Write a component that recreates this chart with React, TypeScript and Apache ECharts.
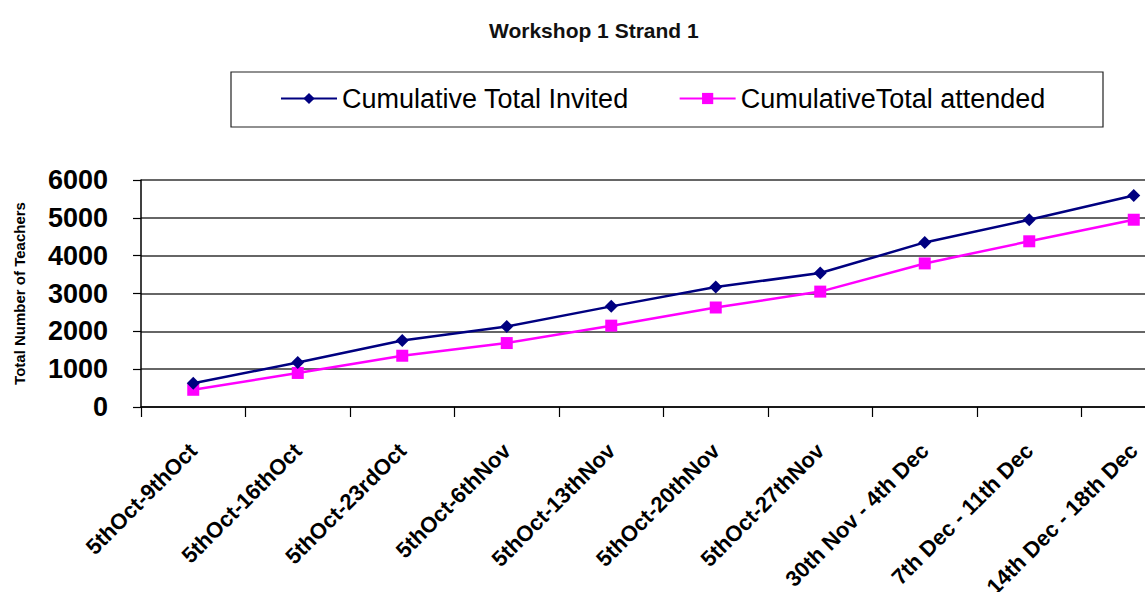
import React, { useEffect, useRef } from "react";
import * as echarts from "echarts";

const categories = [
  "5thOct-9thOct",
  "5thOct-16thOct",
  "5thOct-23rdOct",
  "5thOct-6thNov",
  "5thOct-13thNov",
  "5thOct-20thNov",
  "5thOct-27thNov",
  "30th Nov - 4th Dec",
  "7th Dec - 11th Dec",
  "14th Dec - 18th Dec",
];
const invited = [630, 1175, 1760, 2130, 2660, 3170, 3540, 4350, 4950, 5590];
const attended = [455, 900, 1355, 1690, 2150, 2630, 3050, 3795, 4380, 4950];
const yTicks = [0, 1000, 2000, 3000, 4000, 5000, 6000];

const FONT = "'Liberation Sans', Arial, sans-serif";

export default function App() {
  const ref = useRef<HTMLDivElement>(null);
  useEffect(() => {
    if (!ref.current) return;
    const chart = echarts.init(ref.current, undefined, { renderer: "svg" });
    chart.setOption({
      animation: false,
      backgroundColor: "#ffffff",
      title: {
        text: "Workshop 1 Strand 1",
        left: 484,
        top: 15,
        textStyle: { fontFamily: FONT, fontSize: 21, fontWeight: "bold", color: "#111" },
      },
      graphic: [
        {
          type: "rect",
          shape: { x: 231, y: 72, width: 872, height: 55 },
          style: { fill: "none", stroke: "#222", lineWidth: 1.2 },
          silent: true,
        },
      ],
      legend: {
        left: 280,
        top: 85,
        itemWidth: 56,
        itemHeight: 14,
        itemGap: 50,
        padding: 0,
        textStyle: { fontFamily: FONT, fontSize: 27, color: "#000" },
        data: ["Cumulative Total Invited", "CumulativeTotal attended"],
      },
      grid: {
        left: 141,
        top: 180,
        width: 1045,
        height: 227,
        containLabel: false,
        outerBoundsMode: "none",
      },
      xAxis: {
        type: "category",
        data: categories,
        boundaryGap: true,
        axisLine: { lineStyle: { color: "#000", width: 1.5 } },
        axisTick: { show: true, length: 10, lineStyle: { color: "#000", width: 1.2 } },
        axisLabel: {
          rotate: 45,
          interval: 0,
          margin: 40,
          fontFamily: FONT,
          fontSize: 22,
          fontWeight: "bold",
          color: "#000",
        },
        splitLine: { show: false },
      },
      yAxis: {
        type: "value",
        min: yTicks[0],
        max: yTicks[yTicks.length - 1],
        interval: 1000,
        name: "Total Number of Teachers",
        nameLocation: "middle",
        nameGap: 114,
        nameRotate: 90,
        nameTextStyle: { fontFamily: FONT, fontSize: 15, fontWeight: "bold", color: "#000" },
        axisLine: { show: true, lineStyle: { color: "#000", width: 1.5 } },
        axisTick: { show: true, inside: false, length: 8, lineStyle: { color: "#000", width: 1.2 } },
        axisLabel: {
          margin: 33,
          fontFamily: FONT,
          fontSize: 27,
          fontWeight: "bold",
          color: "#000",
          formatter: (v: number) => String(v),
        },
        splitLine: { show: true, lineStyle: { color: "#333", width: 1.5 } },
      },
      series: [
        {
          name: "Cumulative Total Invited",
          type: "line",
          data: invited,
          symbol: "diamond",
          symbolSize: 13,
          lineStyle: { color: "#000080", width: 2.5 },
          itemStyle: { color: "#000080" },
          z: 3,
        },
        {
          name: "CumulativeTotal attended",
          type: "line",
          data: attended,
          symbol: "rect",
          symbolSize: 12,
          lineStyle: { color: "#FF00FF", width: 2.5 },
          itemStyle: { color: "#FF00FF" },
          z: 2,
        },
      ],
    });
    return () => chart.dispose();
  }, []);
  return (
    <div
      style={{
        position: "absolute",
        left: 0,
        top: 0,
        width: 1145,
        height: 592,
        overflow: "hidden",
        background: "#fff",
      }}
    >
      <div ref={ref} style={{ width: 1200, height: 600 }} />
    </div>
  );
}
